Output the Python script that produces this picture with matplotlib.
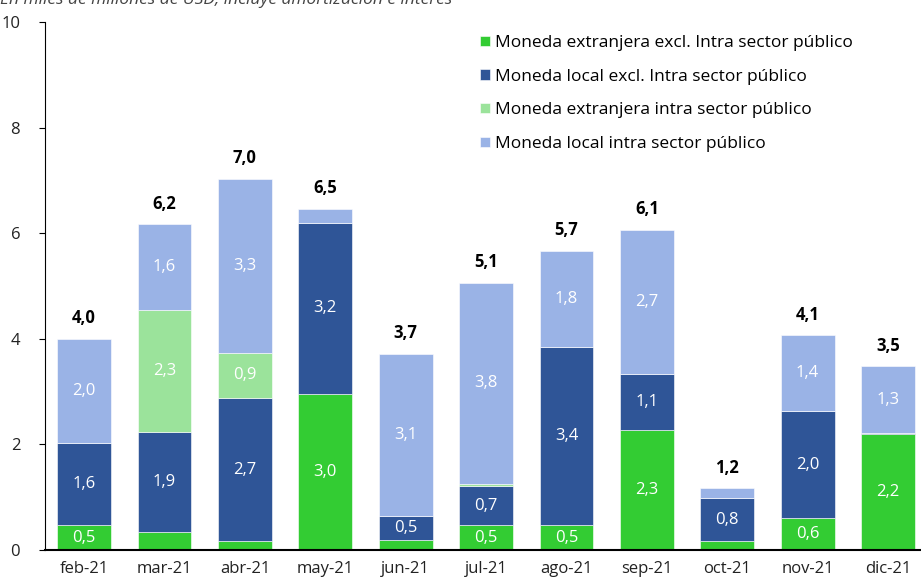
import numpy as np
import matplotlib.pyplot as plt

plt.rcParams['font.family'] = ['Open Sans', 'DejaVu Sans']

months = ['feb-21', 'mar-21', 'abr-21', 'may-21', 'jun-21', 'jul-21',
          'ago-21', 'sep-21', 'oct-21', 'nov-21', 'dic-21']
# En miles de millones de USD
me_excl = [0.47, 0.34, 0.17, 2.96, 0.19, 0.47, 0.47, 2.27, 0.17, 0.60, 2.19]
ml_excl = [1.56, 1.89, 2.71, 3.23, 0.46, 0.74, 3.37, 1.06, 0.81, 2.03, 0.03]
me_intra = [0.0, 2.32, 0.86, 0.0, 0.0, 0.04, 0.0, 0.0, 0.0, 0.0, 0.0]
ml_intra = [1.97, 1.62, 3.29, 0.27, 3.07, 3.81, 1.83, 2.73, 0.19, 1.44, 1.26]

series = [
    ('Moneda extranjera excl. Intra sector público', me_excl, '#33CC33'),
    ('Moneda local excl. Intra sector público', ml_excl, '#2F5597'),
    ('Moneda extranjera intra sector público', me_intra, '#9BE39B'),
    ('Moneda local intra sector público', ml_intra, '#9AB3E6'),
]

def fmt(v):
    return f'{v:.1f}'.replace('.', ',')

fig = plt.figure(figsize=(9.21, 5.79), dpi=100)
ax = fig.add_axes([0.049, 0.050, 0.951, 0.912])

x = np.arange(len(months))
bottom = np.zeros(len(months))
for name, vals, color in series:
    vals = np.array(vals)
    ax.bar(x, vals, 0.67, bottom=bottom, color=color, label=name,
           edgecolor='white', linewidth=0.4)
    for xi, b, v in zip(x, bottom, vals):
        if v >= 0.4:
            ax.text(xi, b + v / 2, fmt(v), ha='center', va='center',
                    color='white', fontsize=12)
    bottom += vals

for xi, t in zip(x, bottom):
    ax.text(xi, t + 0.22, fmt(t), ha='center', va='bottom',
            fontsize=12, fontweight='bold', color='black')

ax.set_xlim(-0.485, 10.41)
ax.set_ylim(0, 10)
ax.set_yticks([0, 2, 4, 6, 8, 10])
ax.set_xticks(x)
ax.set_xticklabels(months)
ax.tick_params(axis='x', length=0, labelsize=12, pad=8)
ax.tick_params(axis='y', length=4, labelsize=12, pad=14)
ax.tick_params(axis='both', labelcolor='#222222')
for s in ['top', 'right']:
    ax.spines[s].set_visible(False)
ax.spines['bottom'].set_linewidth(1.5)
ax.spines['left'].set_linewidth(0.8)

leg = ax.legend(loc='upper right', bbox_to_anchor=(0.94, 1.005), frameon=False,
                fontsize=12.5, handlelength=0.55, handleheight=0.55,
                handletextpad=0.3, labelspacing=1.02)

fig.text(0.0, 1.0, 'En miles de millones de USD, incluye amortización e interés',
         ha='left', va='center', fontsize=12.5, color='#444444', style='italic')

fig.savefig('out.png', dpi=100)
